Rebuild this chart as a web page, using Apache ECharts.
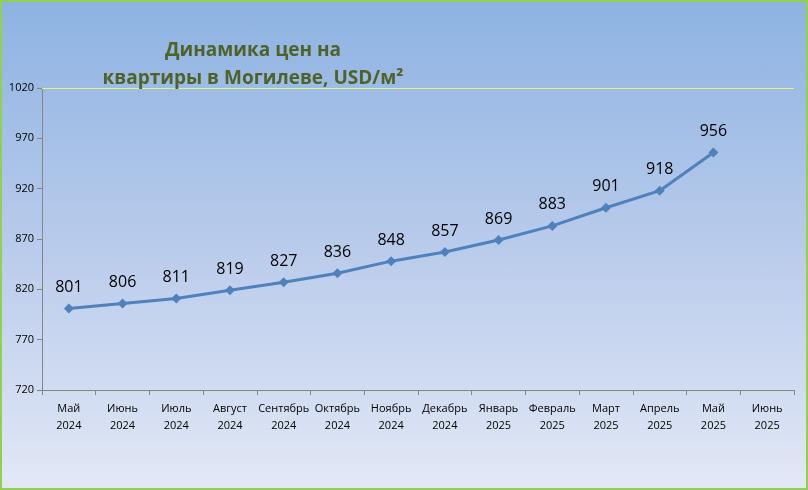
<!DOCTYPE html>
<html>
<head>
<meta charset="utf-8">
<script src="https://cdn.jsdelivr.net/npm/echarts@6/dist/echarts.min.js"></script>
<style>
html,body{margin:0;padding:0;}
#main{width:804px;height:486px;border:2px solid #92d050;
  background:linear-gradient(to bottom,#8db3e2 0%,#b9cbeb 50%,#e2e8f6 100%);}
</style>
</head>
<body>
<div id="main"></div>
<script>
var months = ['Май\n2024','Июнь\n2024','Июль\n2024','Август\n2024','Сентябрь\n2024','Октябрь\n2024','Ноябрь\n2024',
              'Декабрь\n2024','Январь\n2025','Февраль\n2025','Март\n2025','Апрель\n2025','Май\n2025','Июнь\n2025'];
var prices = [801,806,811,819,827,836,848,857,869,883,901,918,956,null];

var chart = echarts.init(document.getElementById('main'));
var font = '"Open Sans", sans-serif';
chart.setOption({
    title: {
        text: 'Динамика цен на\nквартиры в Могилеве, USD/м²',
        left: 246, top: 30, textAlign: 'center',
        textStyle: {color:'#4f6228', fontSize:19, fontWeight:'bold', fontFamily:font, lineHeight:28}
    },
    grid: {left:40, right:12, top:86, bottom:98},
    xAxis: {
        type: 'category',
        data: months,
        boundaryGap: true,
        axisLine: {lineStyle:{color:'#868686'}},
        axisTick: {show:true, lineStyle:{color:'#868686'}},
        axisLabel: {color:'#000', fontSize:11, fontFamily:font, lineHeight:17, margin:10, interval:0}
    },
    yAxis: {
        type: 'value',
        min: 720, max: 1020, interval: 50,
        axisLine: {show:true, lineStyle:{color:'#868686'}},
        axisTick: {show:true, lineStyle:{color:'#868686'}},
        splitLine: {show:false},
        axisLabel: {color:'#000', fontSize:11, fontFamily:font, formatter: function (v) { return String(v); }}
    },
    series: [{
        type: 'line',
        data: prices,
        symbol: 'diamond',
        symbolSize: 10,
        lineStyle: {color:'#4f81bd', width:3},
        itemStyle: {color:'#4f81bd'},
        label: {show:true, position:'top', distance:8, color:'#000', fontSize:16, fontFamily:font},
        markLine: {
            silent:true, symbol:'none', label:{show:false},
            lineStyle:{color:'#e6f07a', type:'solid', width:1},
            data:[{yAxis:1020}]
        }
    }]
});
</script>
</body>
</html>
